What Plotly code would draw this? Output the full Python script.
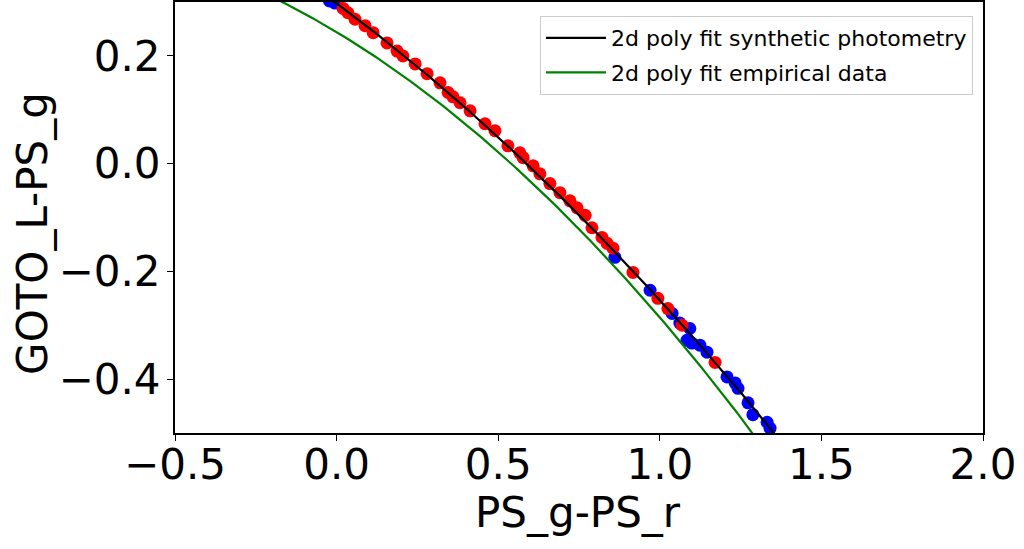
import numpy as np
import plotly.graph_objects as go

# Colour index vs. filter offset: stars split into two samples
red_x = [0.020, 0.035, 0.057, 0.088, 0.113, 0.156, 0.187, 0.205, 0.243, 0.280,
         0.320, 0.345, 0.360, 0.382, 0.413, 0.459, 0.490, 0.530, 0.567, 0.577,
         0.608, 0.629, 0.660, 0.691, 0.722, 0.744, 0.769, 0.790, 0.821, 0.837,
         0.855, 0.917, 0.994, 1.025, 1.069, 1.171]
red_y = [0.288, 0.280, 0.268, 0.256, 0.243, 0.224, 0.209, 0.200, 0.185, 0.167,
         0.150, 0.132, 0.124, 0.113, 0.098, 0.074, 0.061, 0.033, 0.020, 0.011,
         -0.004, -0.019, -0.037, -0.054, -0.069, -0.082, -0.096, -0.119, -0.137, -0.148,
         -0.157, -0.202, -0.250, -0.269, -0.300, -0.369]

blue_x = [-0.022, -0.005, 0.861, 0.970, 1.038, 1.062, 1.093, 1.084, 1.099, 1.124,
          1.146, 1.208, 1.233, 1.242, 1.273, 1.288, 1.332, 1.341]
blue_y = [0.302, 0.298, -0.174, -0.235, -0.278, -0.296, -0.306, -0.328, -0.333, -0.337,
          -0.350, -0.396, -0.407, -0.417, -0.444, -0.466, -0.480, -0.491]

# Second-order polynomial fits (highest power first)
synthetic_fit = [-0.1078, -0.4428, 0.2973]
empirical_fit = [-0.1693, -0.3604, 0.2442]

fit_x = np.linspace(-0.5, 2.0, 400)

x_ticks = [-0.5, 0.0, 0.5, 1.0, 1.5, 2.0]
y_ticks = [-0.4, -0.2, 0.0, 0.2]

x_label = "PS_g-PS_r"
y_label = "GOTO_L-PS_g"

FONT = "DejaVu Sans"


def tick_text(values):
    return [f"{v:.1f}".replace("-", "\u2212") for v in values]


fig = go.Figure()
fig.add_trace(go.Scatter(x=blue_x, y=blue_y, mode="markers", showlegend=False,
                         marker=dict(color="#0000ff", size=13, line=dict(width=0))))
fig.add_trace(go.Scatter(x=red_x, y=red_y, mode="markers", showlegend=False,
                         marker=dict(color="#ff0000", size=13, line=dict(width=0))))
fig.add_trace(go.Scatter(x=fit_x, y=np.polyval(synthetic_fit, fit_x), mode="lines",
                         name="2d poly fit synthetic photometry", legendgroup="a",
                         line=dict(color="#000000", width=2.2)))
fig.add_trace(go.Scatter(x=fit_x, y=np.polyval(empirical_fit, fit_x), mode="lines",
                         name="2d poly fit empirical data", legendgroup="b",
                         line=dict(color="#008000", width=2.2)))

axis_common = dict(
    showgrid=False, zeroline=False, showline=True, mirror=True,
    linecolor="black", linewidth=2, ticks="outside", ticklen=6, tickwidth=1,
    tickcolor="black", automargin=False,
    tickfont=dict(family=FONT, size=42, color="black"),
)

fig.update_layout(
    width=1024, height=549,
    margin=dict(l=175, r=41, t=2, b=116),
    paper_bgcolor="white", plot_bgcolor="white",
    font=dict(family=FONT, color="black"),
    xaxis=dict(range=[-0.5, 2.0], tickvals=x_ticks, ticktext=tick_text(x_ticks),
               ticklabelstandoff=-12, **axis_common),
    yaxis=dict(range=[-0.5, 0.3], tickvals=y_ticks, ticktext=tick_text(y_ticks),
               ticklabelstandoff=-2, **axis_common),
    legend=dict(x=0.9876, y=0.9675, xanchor="right", yanchor="top",
                bgcolor="white", bordercolor="#cccccc", borderwidth=1,
                font=dict(family=FONT, size=22, color="black"),
                itemwidth=60, traceorder="grouped", tracegroupgap=3),
    annotations=[
        dict(text=x_label, xref="paper", yref="paper", x=0.4988, y=-0.185,
             xanchor="center", yanchor="middle", showarrow=False,
             font=dict(family=FONT, size=42, color="black")),
        dict(text=y_label, xref="paper", yref="paper", x=-0.1757, y=0.462,
             xanchor="center", yanchor="middle", textangle=-90, showarrow=False,
             font=dict(family=FONT, size=42, color="black")),
    ],
)

fig.write_html("out.html")
